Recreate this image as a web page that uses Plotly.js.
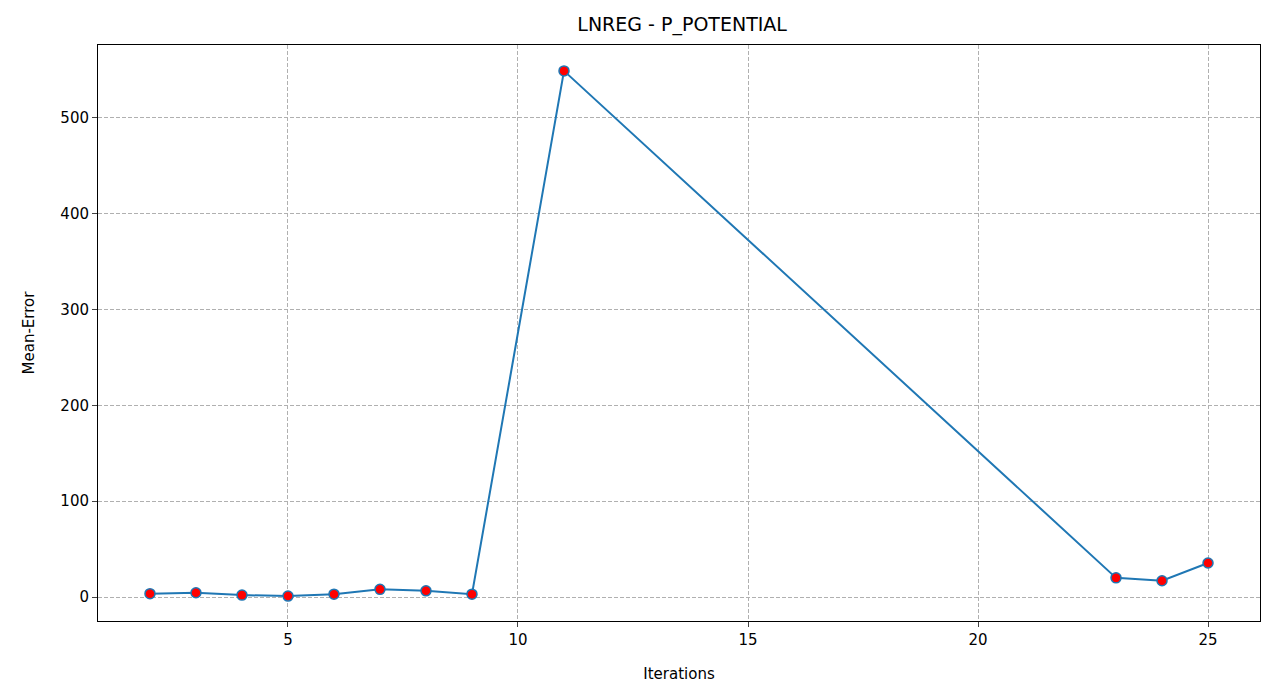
<!DOCTYPE html>
<html>
<head>
<script src="https://cdn.plot.ly/plotly-3.0.1.min.js"></script>
<style>body{margin:0;background:#fff;}</style>
</head>
<body>
<div id="chart" style="width:1275px;height:700px;"></div>
<script>
// iterations and mean error
const iterations = [2, 3, 4, 5, 6, 7, 8, 9, 11, 23, 24, 25];
const meanError = [3.5, 4.5, 2, 1, 3, 8, 6.5, 3, 549, 20, 17, 35.5];

const grid = { showgrid: true, gridcolor: '#b0b0b0', griddash: '4px,2px', gridwidth: 1 };

Plotly.newPlot('chart', [{
    x: iterations,
    y: meanError,
    type: 'scatter',
    mode: 'lines+markers',
    line: { color: '#1f77b4', width: 2 },
    marker: { color: 'red', size: 10, line: { color: '#1f77b4', width: 1.5 } },
}], {
    width: 1275,
    height: 700,
    paper_bgcolor: '#fff',
    plot_bgcolor: '#fff',
    font: { family: 'DejaVu Sans', size: 15, color: '#000' },
    margin: { l: 98, r: 15, t: 45, b: 79 },
    title: { text: 'LNREG - P_POTENTIAL', font: { size: 19 }, x: 0.535, y: 0.975 },
    xaxis: Object.assign({
        range: [0.87, 26.13],
        tickvals: [5, 10, 15, 20, 25],
        tickfont: { size: 15 },
        ticks: 'outside', ticklen: 5,
        showline: true, mirror: true, linecolor: '#000', zeroline: false,
        title: { text: 'Iterations', standoff: 20, font: { size: 15 } },
    }, grid),
    yaxis: Object.assign({
        range: [-25, 576],
        tickvals: [0, 100, 200, 300, 400, 500],
        tickfont: { size: 15 },
        ticks: 'outside', ticklen: 5,
        showline: true, mirror: true, linecolor: '#000', zeroline: false,
        title: { text: 'Mean-Error', standoff: 22, font: { size: 15 } },
    }, grid),
    showlegend: false,
}, { displayModeBar: false, responsive: false });
</script>
</body>
</html>
